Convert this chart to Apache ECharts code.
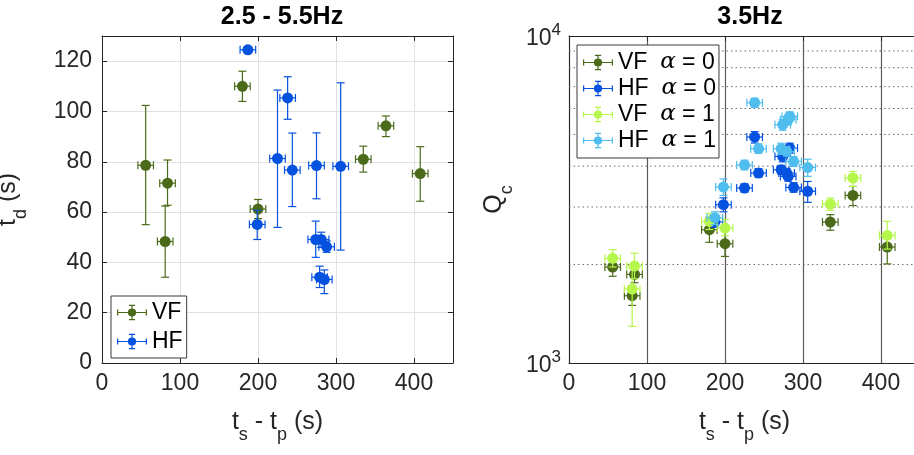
<!DOCTYPE html>
<html><head><meta charset="utf-8">
<script src="https://cdn.jsdelivr.net/npm/echarts@6.0.0/dist/echarts.min.js"></script>
<style>html,body{margin:0;padding:0;background:#fff}#c{width:914px;height:455px}</style>
</head><body><div id="c"></div>
<script>
// ---------- left panel: t_d vs ts-tp (2.5 - 5.5Hz) ----------
const vfX    = [56, 81, 84, 180, 200, 335, 364, 408];
const vfXErr = [10, 10, 10, 10, 10, 10, 10, 10];
const vfTd   = [78.6, 48.3, 71.5, 110, 61.2, 81, 94.3, 75.3];
const vfTdLo = [55, 34.1, 62.7, 104, 57.4, 75.9, 90, 64.3];
const vfTdHi = [102.4, 62.4, 80.7, 116, 65, 86.2, 98.2, 86];

const hfX    = [187, 199, 225, 238, 244, 274, 275, 279, 281, 285, 288, 306];
const hfXErr = [10, 10, 10, 10, 10, 10, 10, 10, 10, 10, 10, 10];
const hfTd   = [124.5, 55.1, 81.3, 105.4, 76.7, 49.1, 78.5, 34.1, 49.1, 33.2, 46.2, 78.2];
const hfTdLo = [123.5, 49.1, 53.9, 96.9, 62.2, 42, 65.3, 30, 46, 27.6, 44, 44.9];
const hfTdHi = [125.5, 60.7, 108.5, 113.8, 91.4, 56.4, 91.5, 38.5, 52, 37, 48.5, 111.4];

// ---------- right panel: Qc vs ts-tp (3.5Hz) ----------
const vfQ0   = [1966, 1606, 1866, 2556, 2316, 2698, 3254, 2263];
const vfQ0Lo = [1842, 1500, 1760, 2339, 2118, 2547, 3030, 2009];
const vfQ0Hi = [2100, 1720, 1980, 2790, 2530, 2842, 3467, 2500];
const vfQ1   = [2090, 1684, 1980, 2710, 2587, 3062, 3679, 2456];
const vfQ1Lo = [1966, 1294, 1810, 2560, 2450, 2930, 3466, 2230];
const vfQ1Hi = [2221, 1950, 2168, 2870, 2750, 3196, 3854, 2712];

const hfXR   = [187, 198, 225, 238, 243, 272, 274, 279, 281, 283, 288, 306];
const hfQ0   = [2700, 3048, 3428, 4909, 3810, 3899, 4284, 3810, 3721, 4541, 3443, 3350];
const hfQ0Lo = [2600, 2900, 3330, 4705, 3700, 3780, 4120, 3690, 3600, 4380, 3330, 3100];
const hfQ0Hi = [2800, 3200, 3530, 5100, 3930, 4020, 4450, 3930, 3850, 4700, 3560, 3590];
const hfQ1   = [2782, 3451, 4032, 6250, 4522, 4522, 5354, 4436, 5546, 5678, 4135, 3960];
const hfQ1Lo = [2650, 3254, 3900, 6050, 4380, 4350, 5150, 4300, 5350, 5500, 3990, 3723];
const hfQ1Hi = [2900, 3655, 4170, 6450, 4680, 4700, 5550, 4580, 5750, 5860, 4280, 4199];

const qMinor = [2000, 3000, 4000, 5000, 6000, 7000, 8000, 9000];

const C_VF0 = '#4b6b1b', C_HF0 = '#0652e0', C_VF1 = '#b6f74c', C_HF1 = '#4fbdee';
const FONT = '"Liberation Sans", Arial, Helvetica, sans-serif';
const INK = '#262626';

function rows(x, xe, y, lo, hi) {
  return x.map((v, i) => [v, y[i], v - xe[i], v + xe[i], lo[i], hi[i]]);
}
function errRender(color) {
  return function (params, api) {
    const x = api.value(0), y = api.value(1);
    const c = api.coord([x, y]);
    const l = api.coord([api.value(2), y]), r = api.coord([api.value(3), y]);
    const b = api.coord([x, api.value(4)]), t = api.coord([x, api.value(5)]);
    const cap = 4, st = { stroke: color, lineWidth: 1.2 };
    return { type: 'group', children: [
      { type: 'line', shape: { x1: c[0], y1: b[1], x2: c[0], y2: t[1] }, style: st },
      { type: 'line', shape: { x1: c[0] - cap, y1: b[1], x2: c[0] + cap, y2: b[1] }, style: st },
      { type: 'line', shape: { x1: c[0] - cap, y1: t[1], x2: c[0] + cap, y2: t[1] }, style: st },
      { type: 'line', shape: { x1: l[0], y1: c[1], x2: r[0], y2: c[1] }, style: st },
      { type: 'line', shape: { x1: l[0], y1: c[1] - cap, x2: l[0], y2: c[1] + cap }, style: st },
      { type: 'line', shape: { x1: r[0], y1: c[1] - cap, x2: r[0], y2: c[1] + cap }, style: st },
      { type: 'circle', shape: { cx: c[0], cy: c[1], r: 5.5 }, style: { fill: color } }
    ]};
  };
}
function errSeries(name, color, data, gi) {
  return { type: 'custom', name: name, xAxisIndex: gi === 0 ? 0 : 2, yAxisIndex: gi === 0 ? 0 : 2,
    itemStyle: { color: color }, renderItem: errRender(color), data: data, z: 5, clip: true,
    encode: { x: 0, y: 1 } };
}
const ICON = 'path://M1 7.4H29V8.6H1Z M0.4 5H1.6V11H0.4Z M28.4 5H29.6V11H28.4Z M14.4 1H15.6V15H14.4Z M12 0.4H18V1.6H12Z M12 14.4H18V15.6H12Z M11 8A4 4 0 1 1 19 8A4 4 0 1 1 11 8Z';

const tickLbl = { fontSize: 23, color: INK, fontFamily: FONT };
const nameStyle = { fontSize: 24, color: INK, fontFamily: FONT,
  rich: { m: { fontSize: 25, fontFamily: FONT, color: INK, padding: [0, 0, 9, 0], verticalAlign: 'bottom' },
          s: { fontSize: 18, fontFamily: FONT, color: INK, verticalAlign: 'bottom' } } };
const xName = '{m|t}{s|s}{m| - t}{s|p}{m| (s)}';

function boxAxis(gi, pos, minv, maxv, interval) {
  return { gridIndex: gi, type: 'value', position: pos, min: minv, max: maxv, interval: interval,
    axisLine: { show: true, onZero: false, lineStyle: { color: INK, width: 1 } },
    axisTick: { show: true, inside: true, length: 5, lineStyle: { color: INK } },
    axisLabel: { show: false }, splitLine: { show: false } };
}

const chart = echarts.init(document.getElementById('c'), null, { renderer: 'canvas' });
chart.setOption({
  animation: false,
  backgroundColor: '#fff',
  textStyle: { fontFamily: FONT },
  title: [
    { text: '2.5 - 5.5Hz', left: 277, textAlign: 'center', top: 0,
      textStyle: { fontSize: 25, fontWeight: 'bold', color: '#000', fontFamily: FONT } },
    { text: '3.5Hz', left: 745, textAlign: 'center', top: 0,
      textStyle: { fontSize: 25, fontWeight: 'bold', color: '#000', fontFamily: FONT } }
  ],
  grid: [
    { left: 102, top: 36, width: 351, height: 327, containLabel: false, outerBoundsMode: 'none' },
    { left: 569, top: 36, width: 351, height: 327, containLabel: false, outerBoundsMode: 'none' }
  ],
  xAxis: [
    { gridIndex: 0, type: 'value', position: 'bottom', min: 0, max: 450, interval: 100,
      axisLine: { show: true, onZero: false, lineStyle: { color: INK } },
      axisTick: { show: true, inside: true, length: 5, lineStyle: { color: INK } },
      axisLabel: Object.assign({ margin: 9, showMaxLabel: false }, tickLbl),
      splitLine: { show: true, lineStyle: { color: '#e2e2e2', width: 1 } },
      name: xName, nameLocation: 'middle', nameGap: 47, nameMoveOverlap: false, nameTextStyle: nameStyle },
    boxAxis(0, 'top', 0, 450, 100),
    { gridIndex: 1, type: 'value', position: 'bottom', min: 0, max: 450, interval: 100,
      axisLine: { show: true, onZero: false, lineStyle: { color: INK } },
      axisTick: { show: false },
      axisLabel: Object.assign({ margin: 9, showMaxLabel: false }, tickLbl),
      splitLine: { show: true, lineStyle: { color: '#5a5a5a', width: 1.2 } },
      name: xName, nameLocation: 'middle', nameGap: 47, nameMoveOverlap: false, nameTextStyle: nameStyle },
    boxAxis(1, 'top', 0, 450, 100)
  ],
  yAxis: [
    { gridIndex: 0, type: 'value', position: 'left', min: 0, max: 130, interval: 20,
      axisLine: { show: true, onZero: false, lineStyle: { color: INK } },
      axisTick: { show: true, inside: true, length: 5, lineStyle: { color: INK } },
      axisLabel: Object.assign({ margin: 10, showMaxLabel: false }, tickLbl),
      splitLine: { show: true, lineStyle: { color: '#e2e2e2', width: 1 } },
      name: '{m|t}{s|d}{m| (s)}', nameLocation: 'middle', nameGap: 72, nameMoveOverlap: false, nameTextStyle: nameStyle },
    boxAxis(0, 'right', 0, 130, 20),
    { gridIndex: 1, type: 'log', logBase: 10, position: 'left', min: 1000, max: 10000,
      axisLine: { show: true, onZero: false, lineStyle: { color: INK } },
      axisTick: { show: false },
      axisLabel: { margin: 8, color: INK, fontFamily: FONT,
        formatter: v => (v === 1000 ? '{b|10}{p|3}' : (v === 10000 ? '{b|10}{p|4}' : '')),
        rich: { b: { fontSize: 23, color: INK, fontFamily: FONT, verticalAlign: 'bottom' },
                p: { fontSize: 17, color: INK, fontFamily: FONT, verticalAlign: 'bottom', padding: [0, 0, 11, 0] } } },
      splitLine: { show: false },
      name: '{m|Q}{s|c}', nameLocation: 'middle', nameGap: 53, nameMoveOverlap: false, nameTextStyle: nameStyle }
  ],
  legend: [
    { data: [{ name: 'VF', icon: ICON }, { name: 'HF', icon: ICON }],
      orient: 'vertical', left: 111, top: 296, itemWidth: 30, itemHeight: 16, itemGap: 6,
      padding: [5, 4, 5, 6], backgroundColor: '#fff', borderColor: '#3a3a3a', borderWidth: 1,
      borderRadius: 0, selectedMode: false,
      textStyle: { fontSize: 23, lineHeight: 22, color: '#000', fontFamily: FONT, padding: [0, 0, 0, 0] } },
    { data: [{ name: 'VF0', icon: ICON }, { name: 'HF0', icon: ICON }, { name: 'VF1', icon: ICON }, { name: 'HF1', icon: ICON }],
      orient: 'vertical', left: 577, top: 45, itemWidth: 30, itemHeight: 16, itemGap: 3,
      padding: [6, 3, 6, 6], backgroundColor: '#fff', borderColor: '#3a3a3a', borderWidth: 1,
      borderRadius: 0, selectedMode: false,
      formatter: function (n) {
        const lab = { VF0: ['VF', '0'], HF0: ['HF', '0'], VF1: ['VF', '1'], HF1: ['HF', '1'] }[n];
        return '{n|' + lab[0] + '}{n|  }{a|α}{n| = ' + lab[1] + '}';
      },
      textStyle: { fontSize: 22, lineHeight: 22, color: '#000', fontFamily: FONT,
        rich: { n: { fontSize: 23, lineHeight: 22, color: '#000', fontFamily: FONT },
                a: { fontSize: 23, lineHeight: 22, color: '#000', fontFamily: '"DejaVu Serif", "Liberation Serif", serif', fontStyle: 'italic' } } } }
  ],
  series: [
    errSeries('VF', C_VF0, rows(vfX, vfXErr, vfTd, vfTdLo, vfTdHi), 0),
    errSeries('HF', C_HF0, rows(hfX, hfXErr, hfTd, hfTdLo, hfTdHi), 0),
    { type: 'custom', xAxisIndex: 2, yAxisIndex: 2, silent: true, z: 1, clip: true,
      data: qMinor.map(v => [v]),
      renderItem: function (params, api) {
        const a = api.coord([0, api.value(0)]), b = api.coord([450, api.value(0)]);
        return { type: 'line', shape: { x1: a[0], y1: a[1], x2: b[0], y2: b[1] },
          style: { stroke: '#6a6a6a', lineWidth: 1, lineDash: [1.5, 3] } };
      }, encode: { y: 0 } },
    errSeries('VF0', C_VF0, rows(vfX, vfXErr, vfQ0, vfQ0Lo, vfQ0Hi), 1),
    errSeries('HF0', C_HF0, rows(hfXR, hfXErr, hfQ0, hfQ0Lo, hfQ0Hi), 1),
    errSeries('VF1', C_VF1, rows(vfX, vfXErr, vfQ1, vfQ1Lo, vfQ1Hi), 1),
    errSeries('HF1', C_HF1, rows(hfXR, hfXErr, hfQ1, hfQ1Lo, hfQ1Hi), 1)
  ]
});
</script></body></html>
